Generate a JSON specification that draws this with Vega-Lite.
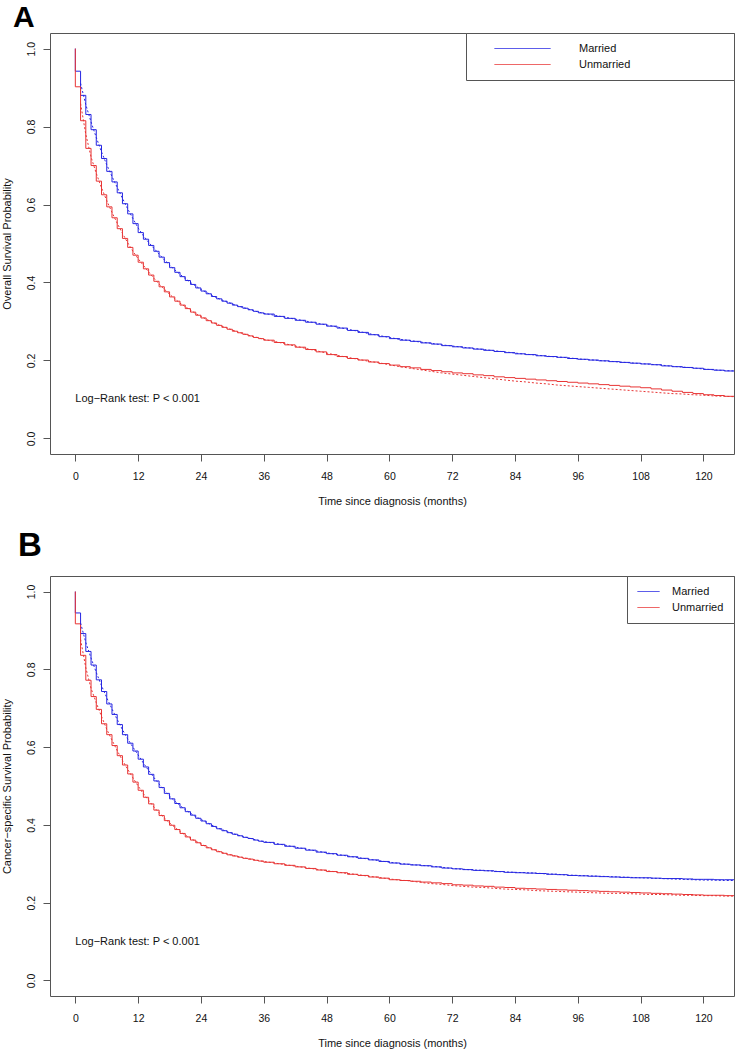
{
"$schema": "https://vega.github.io/schema/vega-lite/v6.json",
"padding": {"left": 1, "top": 2, "right": 0, "bottom": 0},
"background": "white",
"config": {
 "font": "Liberation Sans",
 "view": {"stroke": "#555", "strokeWidth": 1},
 "axis": {"domain": false, "grid": false, "tickColor": "#555", "tickSize": 7, "tickWidth": 1, "labelColor": "#111", "labelFontSize": 10.5, "titleColor": "#111", "titleFontSize": 11, "titleFontWeight": "normal", "labelFlush": false, "labelOverlap": false, "labelBound": false},
 "axisX": {"labelPadding": 10, "titlePadding": 14},
 "axisY": {"labelAngle": -90, "labelAlign": "center", "labelBaseline": "alphabetic", "labelPadding": 8.5, "titlePadding": 14},
 "legend": {"title": null, "orient": "top-right", "offset": 0, "strokeColor": "#555", "fillColor": "white", "padding": 10, "symbolStrokeWidth": 1, "labelFontSize": 11, "labelColor": "#111", "clipHeight": 11, "rowPadding": 4},
 "title": {"fontWeight": "bold", "color": "#000", "anchor": "start", "baseline": "alphabetic", "frame": "group"}
},
"datasets": {"km": [
{"p":"A","g":"Married","t":0,"s":1.000,"f":null},
{"p":"A","g":"Married","t":0,"s":0.942,"f":null},
{"p":"A","g":"Married","t":1,"s":0.880,"f":0.911},
{"p":"A","g":"Married","t":2,"s":0.831,"f":0.856},
{"p":"A","g":"Married","t":3,"s":0.792,"f":0.812},
{"p":"A","g":"Married","t":4,"s":0.752,"f":0.772},
{"p":"A","g":"Married","t":5,"s":0.718,"f":0.735},
{"p":"A","g":"Married","t":6,"s":0.685,"f":0.702},
{"p":"A","g":"Married","t":7,"s":0.658,"f":0.672},
{"p":"A","g":"Married","t":8,"s":0.630,"f":0.644},
{"p":"A","g":"Married","t":9,"s":0.602,"f":0.616},
{"p":"A","g":"Married","t":10,"s":0.576,"f":0.589},
{"p":"A","g":"Married","t":11,"s":0.551,"f":0.564},
{"p":"A","g":"Married","t":12,"s":0.528,"f":0.540},
{"p":"A","g":"Married","t":13,"s":0.511,"f":0.520},
{"p":"A","g":"Married","t":14,"s":0.495,"f":0.503},
{"p":"A","g":"Married","t":15,"s":0.480,"f":0.488},
{"p":"A","g":"Married","t":16,"s":0.465,"f":0.473},
{"p":"A","g":"Married","t":17,"s":0.451,"f":0.458},
{"p":"A","g":"Married","t":18,"s":0.438,"f":0.445},
{"p":"A","g":"Married","t":19,"s":0.426,"f":0.432},
{"p":"A","g":"Married","t":20,"s":0.415,"f":0.421},
{"p":"A","g":"Married","t":21,"s":0.405,"f":0.410},
{"p":"A","g":"Married","t":22,"s":0.395,"f":0.400},
{"p":"A","g":"Married","t":23,"s":0.386,"f":0.391},
{"p":"A","g":"Married","t":24,"s":0.378,"f":0.382},
{"p":"A","g":"Married","t":25,"s":0.371,"f":0.375},
{"p":"A","g":"Married","t":26,"s":0.364,"f":0.368},
{"p":"A","g":"Married","t":27,"s":0.358,"f":0.361},
{"p":"A","g":"Married","t":28,"s":0.352,"f":0.355},
{"p":"A","g":"Married","t":29,"s":0.347,"f":0.350},
{"p":"A","g":"Married","t":30,"s":0.342,"f":0.345},
{"p":"A","g":"Married","t":31,"s":0.338,"f":0.340},
{"p":"A","g":"Married","t":32,"s":0.334,"f":0.336},
{"p":"A","g":"Married","t":33,"s":0.330,"f":0.332},
{"p":"A","g":"Married","t":34,"s":0.326,"f":0.328},
{"p":"A","g":"Married","t":35,"s":0.322,"f":0.324},
{"p":"A","g":"Married","t":36,"s":0.319,"f":0.321},
{"p":"A","g":"Married","t":38,"s":0.313,"f":0.316},
{"p":"A","g":"Married","t":40,"s":0.308,"f":0.311},
{"p":"A","g":"Married","t":42,"s":0.303,"f":0.306},
{"p":"A","g":"Married","t":44,"s":0.298,"f":0.301},
{"p":"A","g":"Married","t":46,"s":0.293,"f":0.296},
{"p":"A","g":"Married","t":48,"s":0.288,"f":0.291},
{"p":"A","g":"Married","t":50,"s":0.283,"f":0.286},
{"p":"A","g":"Married","t":52,"s":0.277,"f":0.280},
{"p":"A","g":"Married","t":54,"s":0.272,"f":0.275},
{"p":"A","g":"Married","t":56,"s":0.266,"f":0.269},
{"p":"A","g":"Married","t":58,"s":0.261,"f":0.264},
{"p":"A","g":"Married","t":60,"s":0.256,"f":0.259},
{"p":"A","g":"Married","t":62,"s":0.252,"f":0.254},
{"p":"A","g":"Married","t":64,"s":0.249,"f":0.251},
{"p":"A","g":"Married","t":66,"s":0.245,"f":0.247},
{"p":"A","g":"Married","t":68,"s":0.242,"f":0.244},
{"p":"A","g":"Married","t":70,"s":0.238,"f":0.240},
{"p":"A","g":"Married","t":72,"s":0.235,"f":0.237},
{"p":"A","g":"Married","t":74,"s":0.232,"f":0.234},
{"p":"A","g":"Married","t":76,"s":0.229,"f":0.231},
{"p":"A","g":"Married","t":78,"s":0.226,"f":0.228},
{"p":"A","g":"Married","t":80,"s":0.223,"f":0.225},
{"p":"A","g":"Married","t":82,"s":0.220,"f":0.222},
{"p":"A","g":"Married","t":84,"s":0.217,"f":0.219},
{"p":"A","g":"Married","t":86,"s":0.215,"f":0.216},
{"p":"A","g":"Married","t":88,"s":0.212,"f":0.214},
{"p":"A","g":"Married","t":90,"s":0.210,"f":0.211},
{"p":"A","g":"Married","t":92,"s":0.208,"f":0.209},
{"p":"A","g":"Married","t":94,"s":0.205,"f":0.207},
{"p":"A","g":"Married","t":96,"s":0.203,"f":0.204},
{"p":"A","g":"Married","t":98,"s":0.201,"f":0.202},
{"p":"A","g":"Married","t":100,"s":0.199,"f":0.200},
{"p":"A","g":"Married","t":102,"s":0.197,"f":0.198},
{"p":"A","g":"Married","t":104,"s":0.195,"f":0.196},
{"p":"A","g":"Married","t":106,"s":0.193,"f":0.194},
{"p":"A","g":"Married","t":108,"s":0.191,"f":0.192},
{"p":"A","g":"Married","t":110,"s":0.189,"f":0.190},
{"p":"A","g":"Married","t":112,"s":0.186,"f":0.188},
{"p":"A","g":"Married","t":114,"s":0.184,"f":0.185},
{"p":"A","g":"Married","t":116,"s":0.182,"f":0.183},
{"p":"A","g":"Married","t":118,"s":0.180,"f":0.181},
{"p":"A","g":"Married","t":120,"s":0.177,"f":0.178},
{"p":"A","g":"Married","t":122,"s":0.175,"f":0.176},
{"p":"A","g":"Married","t":124,"s":0.173,"f":0.174},
{"p":"A","g":"Married","t":126,"s":0.172,"f":0.173},
{"p":"A","g":"Unmarried","t":0,"s":1.000,"f":null},
{"p":"A","g":"Unmarried","t":0,"s":0.902,"f":null},
{"p":"A","g":"Unmarried","t":1,"s":0.815,"f":0.859},
{"p":"A","g":"Unmarried","t":2,"s":0.744,"f":0.780},
{"p":"A","g":"Unmarried","t":3,"s":0.700,"f":0.722},
{"p":"A","g":"Unmarried","t":4,"s":0.660,"f":0.680},
{"p":"A","g":"Unmarried","t":5,"s":0.625,"f":0.643},
{"p":"A","g":"Unmarried","t":6,"s":0.594,"f":0.610},
{"p":"A","g":"Unmarried","t":7,"s":0.566,"f":0.580},
{"p":"A","g":"Unmarried","t":8,"s":0.538,"f":0.552},
{"p":"A","g":"Unmarried","t":9,"s":0.513,"f":0.526},
{"p":"A","g":"Unmarried","t":10,"s":0.490,"f":0.502},
{"p":"A","g":"Unmarried","t":11,"s":0.470,"f":0.480},
{"p":"A","g":"Unmarried","t":12,"s":0.452,"f":0.461},
{"p":"A","g":"Unmarried","t":13,"s":0.435,"f":0.444},
{"p":"A","g":"Unmarried","t":14,"s":0.419,"f":0.427},
{"p":"A","g":"Unmarried","t":15,"s":0.403,"f":0.411},
{"p":"A","g":"Unmarried","t":16,"s":0.389,"f":0.396},
{"p":"A","g":"Unmarried","t":17,"s":0.376,"f":0.383},
{"p":"A","g":"Unmarried","t":18,"s":0.363,"f":0.370},
{"p":"A","g":"Unmarried","t":19,"s":0.352,"f":0.358},
{"p":"A","g":"Unmarried","t":20,"s":0.342,"f":0.347},
{"p":"A","g":"Unmarried","t":21,"s":0.333,"f":0.338},
{"p":"A","g":"Unmarried","t":22,"s":0.324,"f":0.329},
{"p":"A","g":"Unmarried","t":23,"s":0.316,"f":0.320},
{"p":"A","g":"Unmarried","t":24,"s":0.309,"f":0.313},
{"p":"A","g":"Unmarried","t":25,"s":0.302,"f":0.306},
{"p":"A","g":"Unmarried","t":26,"s":0.296,"f":0.299},
{"p":"A","g":"Unmarried","t":27,"s":0.290,"f":0.293},
{"p":"A","g":"Unmarried","t":28,"s":0.285,"f":0.288},
{"p":"A","g":"Unmarried","t":29,"s":0.280,"f":0.283},
{"p":"A","g":"Unmarried","t":30,"s":0.275,"f":0.278},
{"p":"A","g":"Unmarried","t":31,"s":0.271,"f":0.273},
{"p":"A","g":"Unmarried","t":32,"s":0.267,"f":0.269},
{"p":"A","g":"Unmarried","t":33,"s":0.263,"f":0.265},
{"p":"A","g":"Unmarried","t":34,"s":0.259,"f":0.261},
{"p":"A","g":"Unmarried","t":35,"s":0.256,"f":0.258},
{"p":"A","g":"Unmarried","t":36,"s":0.252,"f":0.254},
{"p":"A","g":"Unmarried","t":38,"s":0.246,"f":0.249},
{"p":"A","g":"Unmarried","t":40,"s":0.240,"f":0.243},
{"p":"A","g":"Unmarried","t":42,"s":0.234,"f":0.237},
{"p":"A","g":"Unmarried","t":44,"s":0.228,"f":0.231},
{"p":"A","g":"Unmarried","t":46,"s":0.222,"f":0.225},
{"p":"A","g":"Unmarried","t":48,"s":0.215,"f":0.219},
{"p":"A","g":"Unmarried","t":50,"s":0.210,"f":0.213},
{"p":"A","g":"Unmarried","t":52,"s":0.205,"f":0.208},
{"p":"A","g":"Unmarried","t":54,"s":0.201,"f":0.203},
{"p":"A","g":"Unmarried","t":56,"s":0.196,"f":0.198},
{"p":"A","g":"Unmarried","t":58,"s":0.192,"f":0.194},
{"p":"A","g":"Unmarried","t":60,"s":0.188,"f":0.189},
{"p":"A","g":"Unmarried","t":62,"s":0.184,"f":0.184},
{"p":"A","g":"Unmarried","t":64,"s":0.181,"f":0.180},
{"p":"A","g":"Unmarried","t":66,"s":0.177,"f":0.176},
{"p":"A","g":"Unmarried","t":68,"s":0.174,"f":0.172},
{"p":"A","g":"Unmarried","t":70,"s":0.171,"f":0.168},
{"p":"A","g":"Unmarried","t":72,"s":0.168,"f":0.165},
{"p":"A","g":"Unmarried","t":74,"s":0.166,"f":0.162},
{"p":"A","g":"Unmarried","t":76,"s":0.163,"f":0.159},
{"p":"A","g":"Unmarried","t":78,"s":0.161,"f":0.156},
{"p":"A","g":"Unmarried","t":80,"s":0.158,"f":0.153},
{"p":"A","g":"Unmarried","t":82,"s":0.156,"f":0.150},
{"p":"A","g":"Unmarried","t":84,"s":0.154,"f":0.147},
{"p":"A","g":"Unmarried","t":86,"s":0.152,"f":0.145},
{"p":"A","g":"Unmarried","t":88,"s":0.150,"f":0.142},
{"p":"A","g":"Unmarried","t":90,"s":0.148,"f":0.140},
{"p":"A","g":"Unmarried","t":92,"s":0.146,"f":0.137},
{"p":"A","g":"Unmarried","t":94,"s":0.144,"f":0.135},
{"p":"A","g":"Unmarried","t":96,"s":0.142,"f":0.133},
{"p":"A","g":"Unmarried","t":98,"s":0.140,"f":0.131},
{"p":"A","g":"Unmarried","t":100,"s":0.138,"f":0.129},
{"p":"A","g":"Unmarried","t":102,"s":0.136,"f":0.127},
{"p":"A","g":"Unmarried","t":104,"s":0.134,"f":0.125},
{"p":"A","g":"Unmarried","t":106,"s":0.132,"f":0.123},
{"p":"A","g":"Unmarried","t":108,"s":0.130,"f":0.121},
{"p":"A","g":"Unmarried","t":110,"s":0.127,"f":0.119},
{"p":"A","g":"Unmarried","t":112,"s":0.124,"f":0.117},
{"p":"A","g":"Unmarried","t":114,"s":0.121,"f":0.115},
{"p":"A","g":"Unmarried","t":116,"s":0.118,"f":0.114},
{"p":"A","g":"Unmarried","t":118,"s":0.115,"f":0.112},
{"p":"A","g":"Unmarried","t":120,"s":0.112,"f":0.111},
{"p":"A","g":"Unmarried","t":122,"s":0.110,"f":0.109},
{"p":"A","g":"Unmarried","t":124,"s":0.108,"f":0.108},
{"p":"A","g":"Unmarried","t":126,"s":0.107,"f":0.107},
{"p":"B","g":"Married","t":0,"s":1.000,"f":null},
{"p":"B","g":"Married","t":0,"s":0.945,"f":null},
{"p":"B","g":"Married","t":1,"s":0.892,"f":0.919},
{"p":"B","g":"Married","t":2,"s":0.846,"f":0.869},
{"p":"B","g":"Married","t":3,"s":0.811,"f":0.829},
{"p":"B","g":"Married","t":4,"s":0.773,"f":0.792},
{"p":"B","g":"Married","t":5,"s":0.743,"f":0.758},
{"p":"B","g":"Married","t":6,"s":0.711,"f":0.727},
{"p":"B","g":"Married","t":7,"s":0.684,"f":0.698},
{"p":"B","g":"Married","t":8,"s":0.658,"f":0.671},
{"p":"B","g":"Married","t":9,"s":0.632,"f":0.645},
{"p":"B","g":"Married","t":10,"s":0.610,"f":0.621},
{"p":"B","g":"Married","t":11,"s":0.590,"f":0.600},
{"p":"B","g":"Married","t":12,"s":0.569,"f":0.580},
{"p":"B","g":"Married","t":13,"s":0.549,"f":0.559},
{"p":"B","g":"Married","t":14,"s":0.530,"f":0.540},
{"p":"B","g":"Married","t":15,"s":0.513,"f":0.522},
{"p":"B","g":"Married","t":16,"s":0.496,"f":0.505},
{"p":"B","g":"Married","t":17,"s":0.481,"f":0.489},
{"p":"B","g":"Married","t":18,"s":0.467,"f":0.474},
{"p":"B","g":"Married","t":19,"s":0.455,"f":0.461},
{"p":"B","g":"Married","t":20,"s":0.444,"f":0.450},
{"p":"B","g":"Married","t":21,"s":0.434,"f":0.439},
{"p":"B","g":"Married","t":22,"s":0.425,"f":0.430},
{"p":"B","g":"Married","t":23,"s":0.417,"f":0.421},
{"p":"B","g":"Married","t":24,"s":0.410,"f":0.414},
{"p":"B","g":"Married","t":25,"s":0.403,"f":0.407},
{"p":"B","g":"Married","t":26,"s":0.396,"f":0.400},
{"p":"B","g":"Married","t":27,"s":0.390,"f":0.393},
{"p":"B","g":"Married","t":28,"s":0.385,"f":0.388},
{"p":"B","g":"Married","t":29,"s":0.380,"f":0.383},
{"p":"B","g":"Married","t":30,"s":0.376,"f":0.378},
{"p":"B","g":"Married","t":31,"s":0.372,"f":0.374},
{"p":"B","g":"Married","t":32,"s":0.368,"f":0.370},
{"p":"B","g":"Married","t":33,"s":0.365,"f":0.367},
{"p":"B","g":"Married","t":34,"s":0.361,"f":0.363},
{"p":"B","g":"Married","t":35,"s":0.358,"f":0.360},
{"p":"B","g":"Married","t":36,"s":0.355,"f":0.357},
{"p":"B","g":"Married","t":38,"s":0.350,"f":0.353},
{"p":"B","g":"Married","t":40,"s":0.345,"f":0.348},
{"p":"B","g":"Married","t":42,"s":0.340,"f":0.343},
{"p":"B","g":"Married","t":44,"s":0.335,"f":0.338},
{"p":"B","g":"Married","t":46,"s":0.330,"f":0.333},
{"p":"B","g":"Married","t":48,"s":0.326,"f":0.328},
{"p":"B","g":"Married","t":50,"s":0.322,"f":0.324},
{"p":"B","g":"Married","t":52,"s":0.318,"f":0.320},
{"p":"B","g":"Married","t":54,"s":0.314,"f":0.316},
{"p":"B","g":"Married","t":56,"s":0.310,"f":0.312},
{"p":"B","g":"Married","t":58,"s":0.306,"f":0.308},
{"p":"B","g":"Married","t":60,"s":0.302,"f":0.304},
{"p":"B","g":"Married","t":62,"s":0.299,"f":0.301},
{"p":"B","g":"Married","t":64,"s":0.297,"f":0.298},
{"p":"B","g":"Married","t":66,"s":0.295,"f":0.296},
{"p":"B","g":"Married","t":68,"s":0.292,"f":0.294},
{"p":"B","g":"Married","t":70,"s":0.289,"f":0.291},
{"p":"B","g":"Married","t":72,"s":0.287,"f":0.288},
{"p":"B","g":"Married","t":74,"s":0.285,"f":0.286},
{"p":"B","g":"Married","t":76,"s":0.283,"f":0.284},
{"p":"B","g":"Married","t":78,"s":0.282,"f":0.283},
{"p":"B","g":"Married","t":80,"s":0.280,"f":0.281},
{"p":"B","g":"Married","t":82,"s":0.278,"f":0.279},
{"p":"B","g":"Married","t":84,"s":0.277,"f":0.278},
{"p":"B","g":"Married","t":86,"s":0.276,"f":0.277},
{"p":"B","g":"Married","t":88,"s":0.275,"f":0.276},
{"p":"B","g":"Married","t":90,"s":0.273,"f":0.274},
{"p":"B","g":"Married","t":92,"s":0.272,"f":0.273},
{"p":"B","g":"Married","t":94,"s":0.270,"f":0.271},
{"p":"B","g":"Married","t":96,"s":0.269,"f":0.270},
{"p":"B","g":"Married","t":98,"s":0.268,"f":0.269},
{"p":"B","g":"Married","t":100,"s":0.267,"f":0.268},
{"p":"B","g":"Married","t":102,"s":0.266,"f":0.267},
{"p":"B","g":"Married","t":104,"s":0.265,"f":0.266},
{"p":"B","g":"Married","t":106,"s":0.264,"f":0.265},
{"p":"B","g":"Married","t":108,"s":0.264,"f":0.264},
{"p":"B","g":"Married","t":110,"s":0.263,"f":0.263},
{"p":"B","g":"Married","t":112,"s":0.262,"f":0.262},
{"p":"B","g":"Married","t":114,"s":0.262,"f":0.261},
{"p":"B","g":"Married","t":116,"s":0.261,"f":0.260},
{"p":"B","g":"Married","t":118,"s":0.260,"f":0.259},
{"p":"B","g":"Married","t":120,"s":0.260,"f":0.258},
{"p":"B","g":"Married","t":122,"s":0.259,"f":0.258},
{"p":"B","g":"Married","t":124,"s":0.259,"f":0.257},
{"p":"B","g":"Married","t":126,"s":0.258,"f":0.257},
{"p":"B","g":"Unmarried","t":0,"s":1.000,"f":null},
{"p":"B","g":"Unmarried","t":0,"s":0.917,"f":null},
{"p":"B","g":"Unmarried","t":1,"s":0.836,"f":0.877},
{"p":"B","g":"Unmarried","t":2,"s":0.772,"f":0.804},
{"p":"B","g":"Unmarried","t":3,"s":0.730,"f":0.751},
{"p":"B","g":"Unmarried","t":4,"s":0.697,"f":0.714},
{"p":"B","g":"Unmarried","t":5,"s":0.660,"f":0.679},
{"p":"B","g":"Unmarried","t":6,"s":0.632,"f":0.646},
{"p":"B","g":"Unmarried","t":7,"s":0.604,"f":0.618},
{"p":"B","g":"Unmarried","t":8,"s":0.578,"f":0.591},
{"p":"B","g":"Unmarried","t":9,"s":0.554,"f":0.566},
{"p":"B","g":"Unmarried","t":10,"s":0.531,"f":0.543},
{"p":"B","g":"Unmarried","t":11,"s":0.510,"f":0.521},
{"p":"B","g":"Unmarried","t":12,"s":0.489,"f":0.500},
{"p":"B","g":"Unmarried","t":13,"s":0.471,"f":0.480},
{"p":"B","g":"Unmarried","t":14,"s":0.454,"f":0.463},
{"p":"B","g":"Unmarried","t":15,"s":0.438,"f":0.446},
{"p":"B","g":"Unmarried","t":16,"s":0.424,"f":0.431},
{"p":"B","g":"Unmarried","t":17,"s":0.411,"f":0.418},
{"p":"B","g":"Unmarried","t":18,"s":0.399,"f":0.405},
{"p":"B","g":"Unmarried","t":19,"s":0.388,"f":0.394},
{"p":"B","g":"Unmarried","t":20,"s":0.378,"f":0.383},
{"p":"B","g":"Unmarried","t":21,"s":0.369,"f":0.374},
{"p":"B","g":"Unmarried","t":22,"s":0.361,"f":0.365},
{"p":"B","g":"Unmarried","t":23,"s":0.354,"f":0.358},
{"p":"B","g":"Unmarried","t":24,"s":0.347,"f":0.351},
{"p":"B","g":"Unmarried","t":25,"s":0.341,"f":0.344},
{"p":"B","g":"Unmarried","t":26,"s":0.336,"f":0.339},
{"p":"B","g":"Unmarried","t":27,"s":0.331,"f":0.334},
{"p":"B","g":"Unmarried","t":28,"s":0.327,"f":0.329},
{"p":"B","g":"Unmarried","t":29,"s":0.323,"f":0.325},
{"p":"B","g":"Unmarried","t":30,"s":0.320,"f":0.322},
{"p":"B","g":"Unmarried","t":31,"s":0.317,"f":0.319},
{"p":"B","g":"Unmarried","t":32,"s":0.314,"f":0.316},
{"p":"B","g":"Unmarried","t":33,"s":0.312,"f":0.313},
{"p":"B","g":"Unmarried","t":34,"s":0.309,"f":0.311},
{"p":"B","g":"Unmarried","t":35,"s":0.307,"f":0.308},
{"p":"B","g":"Unmarried","t":36,"s":0.304,"f":0.306},
{"p":"B","g":"Unmarried","t":38,"s":0.300,"f":0.302},
{"p":"B","g":"Unmarried","t":40,"s":0.296,"f":0.298},
{"p":"B","g":"Unmarried","t":42,"s":0.292,"f":0.294},
{"p":"B","g":"Unmarried","t":44,"s":0.288,"f":0.290},
{"p":"B","g":"Unmarried","t":46,"s":0.284,"f":0.286},
{"p":"B","g":"Unmarried","t":48,"s":0.280,"f":0.282},
{"p":"B","g":"Unmarried","t":50,"s":0.277,"f":0.279},
{"p":"B","g":"Unmarried","t":52,"s":0.273,"f":0.275},
{"p":"B","g":"Unmarried","t":54,"s":0.270,"f":0.272},
{"p":"B","g":"Unmarried","t":56,"s":0.266,"f":0.268},
{"p":"B","g":"Unmarried","t":58,"s":0.263,"f":0.265},
{"p":"B","g":"Unmarried","t":60,"s":0.259,"f":0.261},
{"p":"B","g":"Unmarried","t":62,"s":0.257,"f":0.258},
{"p":"B","g":"Unmarried","t":64,"s":0.255,"f":0.256},
{"p":"B","g":"Unmarried","t":66,"s":0.253,"f":0.252},
{"p":"B","g":"Unmarried","t":68,"s":0.251,"f":0.249},
{"p":"B","g":"Unmarried","t":70,"s":0.249,"f":0.247},
{"p":"B","g":"Unmarried","t":72,"s":0.246,"f":0.244},
{"p":"B","g":"Unmarried","t":74,"s":0.245,"f":0.242},
{"p":"B","g":"Unmarried","t":76,"s":0.243,"f":0.240},
{"p":"B","g":"Unmarried","t":78,"s":0.242,"f":0.239},
{"p":"B","g":"Unmarried","t":80,"s":0.240,"f":0.237},
{"p":"B","g":"Unmarried","t":82,"s":0.239,"f":0.235},
{"p":"B","g":"Unmarried","t":84,"s":0.237,"f":0.234},
{"p":"B","g":"Unmarried","t":86,"s":0.236,"f":0.233},
{"p":"B","g":"Unmarried","t":88,"s":0.235,"f":0.231},
{"p":"B","g":"Unmarried","t":90,"s":0.234,"f":0.230},
{"p":"B","g":"Unmarried","t":92,"s":0.233,"f":0.229},
{"p":"B","g":"Unmarried","t":94,"s":0.232,"f":0.228},
{"p":"B","g":"Unmarried","t":96,"s":0.231,"f":0.227},
{"p":"B","g":"Unmarried","t":98,"s":0.230,"f":0.226},
{"p":"B","g":"Unmarried","t":100,"s":0.229,"f":0.225},
{"p":"B","g":"Unmarried","t":102,"s":0.228,"f":0.224},
{"p":"B","g":"Unmarried","t":104,"s":0.227,"f":0.224},
{"p":"B","g":"Unmarried","t":106,"s":0.226,"f":0.223},
{"p":"B","g":"Unmarried","t":108,"s":0.225,"f":0.222},
{"p":"B","g":"Unmarried","t":110,"s":0.224,"f":0.221},
{"p":"B","g":"Unmarried","t":112,"s":0.223,"f":0.221},
{"p":"B","g":"Unmarried","t":114,"s":0.222,"f":0.220},
{"p":"B","g":"Unmarried","t":116,"s":0.221,"f":0.219},
{"p":"B","g":"Unmarried","t":118,"s":0.220,"f":0.219},
{"p":"B","g":"Unmarried","t":120,"s":0.219,"f":0.218},
{"p":"B","g":"Unmarried","t":122,"s":0.219,"f":0.218},
{"p":"B","g":"Unmarried","t":124,"s":0.218,"f":0.217},
{"p":"B","g":"Unmarried","t":126,"s":0.218,"f":0.217}
]},
"bounds": "flush",
"spacing": 122,
"resolve": {"scale": {"color": "independent"}, "legend": {"color": "independent"}},
"vconcat": [
{
 "title": {"text": "A", "fontSize": 30, "dx": -37, "offset": 0},
 "width": 684, "height": 421,
 "layer": [
  {"data": {"name": "km"}, "transform": [{"filter": "datum.p === 'A'"}],
   "mark": {"type": "line", "interpolate": "step-after", "strokeWidth": 1, "clip": true},
   "encoding": {
    "x": {"field": "t", "type": "quantitative", "title": "Time since diagnosis (months)", "scale": {"domain": [-4.84, 125.84], "nice": false, "zero": false}, "axis": {"values": [0,12,24,36,48,60,72,84,96,108,120]}},
    "y": {"field": "s", "type": "quantitative", "title": "Overall Survival Probability", "scale": {"domain": [-0.04, 1.04], "nice": false, "zero": false}, "axis": {"values": [0,0.2,0.4,0.6,0.8,1], "format": ".1f"}},
    "color": {"field": "g", "type": "nominal", "scale": {"domain": ["Married", "Unmarried"], "range": ["#2626e2", "#e83434"]},
     "legend": {"symbolSize": 3136, "symbolOffset": 18, "labelOffset": 28,
      "labelExpr": "datum.label + '\u2003\u2003\u2003\u2003\u2003\u2003\u2003\u2003\u2002\u200b'",
      "encode": {"symbols": {"update": {"stroke": {"signal": "datum.value === 'Married' ? '#2626e2' : '#e83434'"}, "strokeDash": {"value": [1, 0]}}}}}}
   }},
  {"data": {"name": "km"}, "transform": [{"filter": "datum.p === 'A'"}],
   "mark": {"type": "line", "strokeWidth": 1, "strokeDash": [2, 2], "clip": true},
   "encoding": {
    "x": {"field": "t", "type": "quantitative", "title": "Time since diagnosis (months)"},
    "y": {"field": "f", "type": "quantitative", "title": "Overall Survival Probability"},
    "color": {"field": "g", "type": "nominal"}
   }},
  {"data": {"values": [{"t": 0, "s": 0.1, "label": "Log−Rank test: P < 0.001"}]},
   "mark": {"type": "text", "align": "left", "baseline": "middle", "fontSize": 11, "color": "#111"},
   "encoding": {
    "x": {"field": "t", "type": "quantitative", "title": "Time since diagnosis (months)"},
    "y": {"field": "s", "type": "quantitative", "title": "Overall Survival Probability"},
    "text": {"field": "label"}
   }}
 ]
},
{
 "title": {"text": "B", "fontSize": 33, "dx": -32, "offset": 12.5},
 "width": 684, "height": 420,
 "layer": [
  {"data": {"name": "km"}, "transform": [{"filter": "datum.p === 'B'"}],
   "mark": {"type": "line", "interpolate": "step-after", "strokeWidth": 1, "clip": true},
   "encoding": {
    "x": {"field": "t", "type": "quantitative", "title": "Time since diagnosis (months)", "scale": {"domain": [-4.84, 125.84], "nice": false, "zero": false}, "axis": {"values": [0,12,24,36,48,60,72,84,96,108,120]}},
    "y": {"field": "s", "type": "quantitative", "title": "Cancer−specific Survival Probability", "scale": {"domain": [-0.04, 1.04], "nice": false, "zero": false}, "axis": {"values": [0,0.2,0.4,0.6,0.8,1], "format": ".1f"}},
    "color": {"field": "g", "type": "nominal", "scale": {"domain": ["Married", "Unmarried"], "range": ["#2626e2", "#e83434"]},
     "legend": {"symbolSize": 484, "labelOffset": 12,
      "encode": {"symbols": {"update": {"stroke": {"signal": "datum.value === 'Married' ? '#6a6af0' : '#f07070'"}, "strokeDash": {"value": [1, 0]}}}}}}
   }},
  {"data": {"name": "km"}, "transform": [{"filter": "datum.p === 'B'"}],
   "mark": {"type": "line", "strokeWidth": 1, "strokeDash": [2, 2], "clip": true},
   "encoding": {
    "x": {"field": "t", "type": "quantitative", "title": "Time since diagnosis (months)"},
    "y": {"field": "f", "type": "quantitative", "title": "Cancer−specific Survival Probability"},
    "color": {"field": "g", "type": "nominal"}
   }},
  {"data": {"values": [{"t": 0, "s": 0.1, "label": "Log−Rank test: P < 0.001"}]},
   "mark": {"type": "text", "align": "left", "baseline": "middle", "fontSize": 11, "color": "#111"},
   "encoding": {
    "x": {"field": "t", "type": "quantitative", "title": "Time since diagnosis (months)"},
    "y": {"field": "s", "type": "quantitative", "title": "Cancer−specific Survival Probability"},
    "text": {"field": "label"}
   }}
 ]
}
]
}
